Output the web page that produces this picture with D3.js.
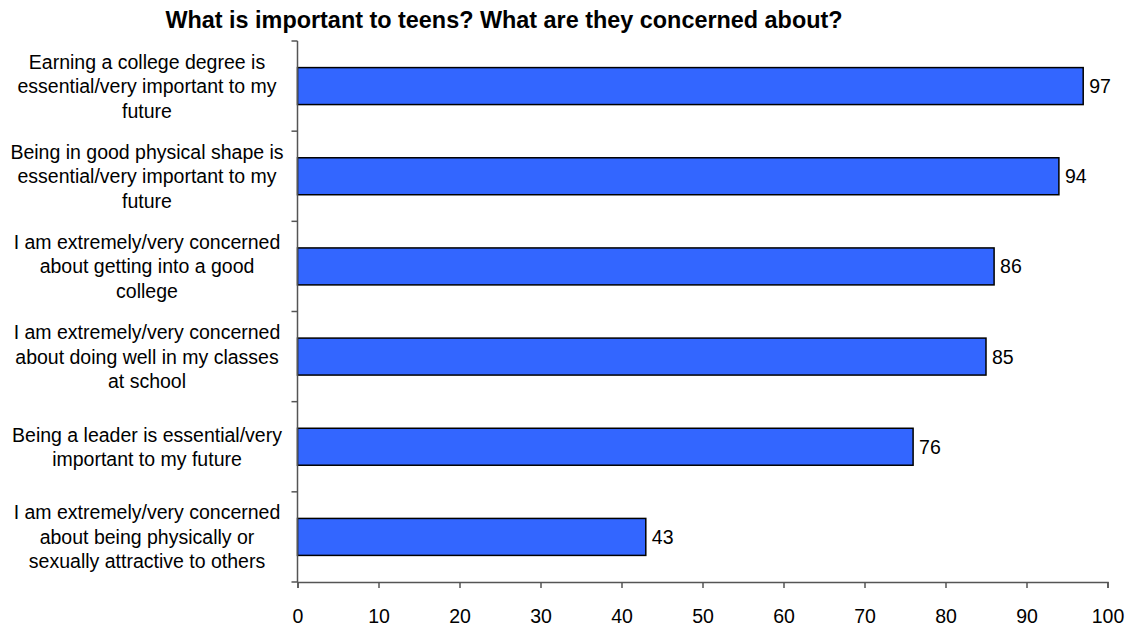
<!DOCTYPE html>
<html><head><meta charset="utf-8">
<script src="https://cdn.jsdelivr.net/npm/d3@7"></script>
<style>body{margin:0;background:#fff}svg{display:block}text{font-family:"Liberation Sans",Arial,sans-serif;fill:#000}</style>
</head><body><svg id="c" width="1130" height="628"></svg>
<script>
const categories = [
  ["Earning a college degree is","essential/very important to my","future"],
  ["Being in good physical shape is","essential/very important to my","future"],
  ["I am extremely/very concerned","about getting into a good","college"],
  ["I am extremely/very concerned","about doing well in my classes","at school"],
  ["Being a leader is essential/very","important to my future"],
  ["I am extremely/very concerned","about being physically or","sexually attractive to others"]
];
const values = [97, 94, 86, 85, 76, 43];
const xTicks = [0,10,20,30,40,50,60,70,80,90,100];
const title = "What is important to teens? What are they concerned about?";

const svg = d3.select("#c");
const m = {l:297.5, r:1107.5, t:41, b:582};
const x = d3.scaleLinear().domain([0,100]).range([m.l, m.r]);
const y = d3.scaleBand().domain(d3.range(categories.length)).range([m.t, m.b]).paddingInner(0.59).paddingOuter(0.295);

svg.append("text").attr("x",504).attr("y",28).attr("text-anchor","middle")
  .style("font-weight","bold").style("font-size","23.4px").text(title);

// bars
svg.selectAll("rect.bar").data(values).join("rect").attr("class","bar")
  .attr("x", x(0)).attr("y",(d,i)=>y(i)).attr("width",d=>x(d)-x(0)).attr("height",y.bandwidth())
  .attr("fill","#3366FF").attr("stroke","#000").attr("stroke-width",1.5);

svg.selectAll("text.val").data(values).join("text").attr("class","val")
  .attr("x",d=>x(d)+6).attr("y",(d,i)=>y(i)+y.bandwidth()/2).attr("dy","0.36em")
  .style("font-size","19.5px").text(d=>d);

// x axis
const xa = svg.append("g").attr("transform",`translate(0,${m.b})`)
  .call(d3.axisBottom(x).tickValues(xTicks).tickSize(6).tickPadding(21));
xa.select(".domain").attr("stroke","#555").attr("stroke-width",1.5);
xa.selectAll(".tick line").attr("stroke","#555").attr("stroke-width",1.5);
xa.selectAll(".tick text").style("font-size","19.5px").style("font-family","'Liberation Sans',Arial,sans-serif").attr("fill","#000");

// y axis line and ticks at boundaries
const step = y.step();
svg.append("line").attr("x1",x(0)).attr("x2",x(0)).attr("y1",m.t).attr("y2",m.b).attr("stroke","#555").attr("stroke-width",1.5);
svg.selectAll("line.yt").data(d3.range(categories.length+1)).join("line").attr("class","yt")
  .attr("x1",x(0)-6).attr("x2",x(0)).attr("y1",i=>m.t+i*step).attr("y2",i=>m.t+i*step)
  .attr("stroke","#555").attr("stroke-width",1.5);

// category labels
const lh = 24.5;
categories.forEach((lines,i)=>{
  const cy = y(i)+y.bandwidth()/2;
  const t = svg.append("text").attr("text-anchor","middle").style("font-size","19.5px");
  lines.forEach((ln,j)=>{
    t.append("tspan").attr("x",147).attr("y",cy + (j-(lines.length-1)/2)*lh).attr("dy","0.36em").text(ln);
  });
});
</script></body></html>
